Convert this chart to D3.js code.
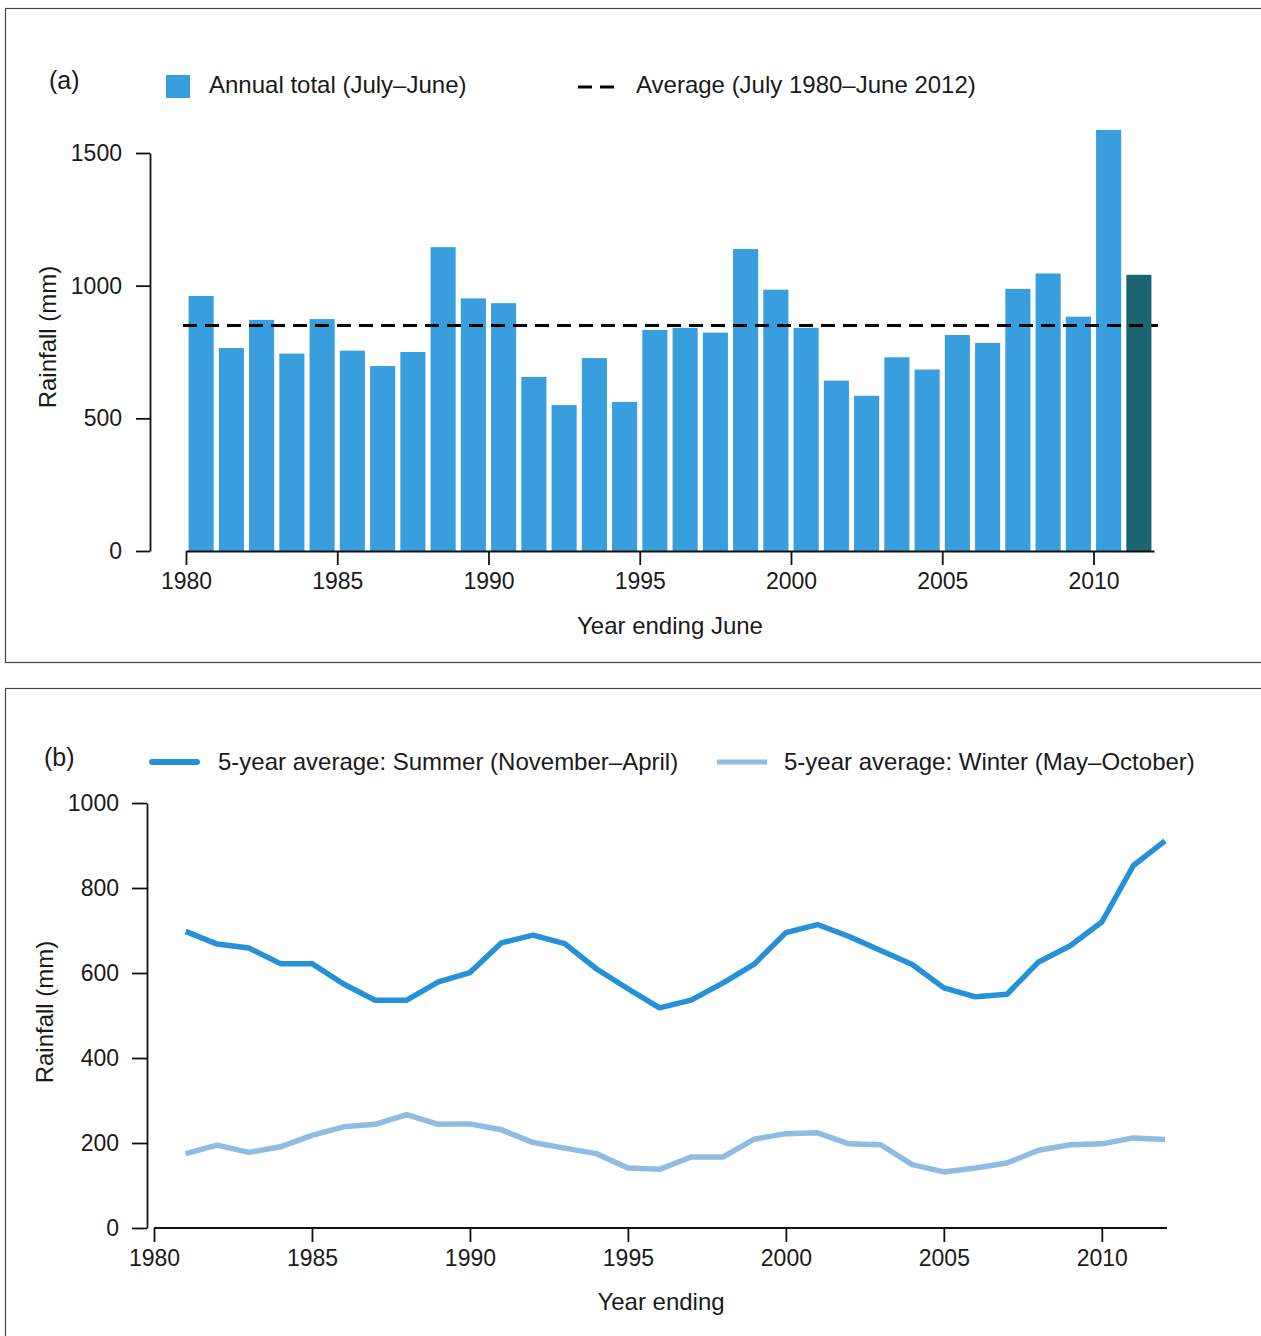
<!DOCTYPE html>
<html>
<head>
<meta charset="utf-8">
<script src="https://cdn.jsdelivr.net/npm/d3@7"></script>
<style>
  html, body { margin: 0; padding: 0; background: #fff; }
  svg { display: block; }
  text { font-family: "Liberation Sans", Arial, Helvetica, sans-serif; fill: #1a1a1a; }
  .axis path, .axis line { stroke: #111; stroke-width: 1.8; }
  .axis text { font-size: 23px; fill: #1a1a1a; font-family: "Liberation Sans", Arial, sans-serif; }
</style>
</head>
<body>
<svg id="chart" width="1261" height="1336"></svg>
<script>
// Annual rainfall, year ending June (July 1980 – June 2012)
const barYears = d3.range(1981, 2013);
const annualTotals = [961, 765, 871, 744, 874, 755, 697, 750, 1145, 952, 934, 656, 550, 727, 562,
                      833, 841, 823, 1138, 985, 841, 642, 585, 730, 684, 814, 784, 988, 1046, 883, 1587, 1041];

// 5-year running averages by season
const lineYears = d3.range(1981, 2013);
const summerAvg = [698, 668, 659, 622, 622, 574, 536, 536, 579, 601, 671, 689, 669, 610, 563,
                   518, 536, 576, 621, 695, 714, 686, 653, 620, 565, 544, 550, 626, 664, 720, 853, 911];
const winterAvg = [175, 195, 178, 191, 218, 238, 244, 267, 244, 245, 231, 201, 188, 175, 141,
                   138, 167, 167, 209, 222, 224, 198, 196, 149, 132, 141, 153, 183, 196, 198, 212, 208];

const yTicksA = [0, 500, 1000, 1500];
const yTicksB = [0, 200, 400, 600, 800, 1000];
const xTicks = [1980, 1985, 1990, 1995, 2000, 2005, 2010];

const barColor = "#389edd";
const lastBarColor = "#1b6470";
const summerColor = "#2791d8";
const winterColor = "#8fbde2";

const svg = d3.select("#chart");

// Panel frames
svg.append("rect").attr("x", 5.5).attr("y", 8.5).attr("width", 1260).attr("height", 654)
  .attr("fill", "none").attr("stroke", "#444").attr("stroke-width", 1.2);
svg.append("rect").attr("x", 5.5).attr("y", 688.5).attr("width", 1260).attr("height", 700)
  .attr("fill", "none").attr("stroke", "#444").attr("stroke-width", 1.2);

// ---------- Panel (a): annual totals ----------
const gA = svg.append("g");
const xA = d3.scaleLinear().domain([1980, 2012]).range([186, 1154]);
const xBand = d3.scaleBand().domain(barYears).range([186, 1154]).paddingInner(0.17).paddingOuter(0.085);
const yA = d3.scaleLinear().domain([0, 1500]).range([551, 153]);

gA.selectAll("rect.bar").data(barYears).join("rect")
  .attr("class", "bar")
  .attr("x", d => xBand(d))
  .attr("width", xBand.bandwidth())
  .attr("y", (d, i) => yA(annualTotals[i]))
  .attr("height", (d, i) => yA(0) - yA(annualTotals[i]))
  .attr("fill", (d, i) => i === barYears.length - 1 ? lastBarColor : barColor);

const avg = d3.mean(annualTotals);
gA.append("line")
  .attr("x1", 183).attr("x2", 1158)
  .attr("y1", yA(avg)).attr("y2", yA(avg))
  .attr("stroke", "#000").attr("stroke-width", 3)
  .attr("stroke-dasharray", "14,8");

gA.append("g").attr("class", "axis")
  .attr("transform", "translate(150,0)")
  .call(d3.axisLeft(yA).tickValues(yTicksA).tickSize(14).tickSizeOuter(0).tickPadding(14).tickFormat(d3.format("d")));

gA.append("g").attr("class", "axis")
  .attr("transform", "translate(0,551)")
  .call(d3.axisBottom(xA).tickValues(xTicks).tickSize(14).tickSizeOuter(0).tickPadding(8).tickFormat(d3.format("d")));

gA.append("text").attr("transform", "translate(56,337) rotate(-90)")
  .attr("text-anchor", "middle").style("font-size", "24px").text("Rainfall (mm)");
gA.append("text").attr("x", 670).attr("y", 634)
  .attr("text-anchor", "middle").style("font-size", "24px").text("Year ending June");

gA.append("text").attr("x", 49).attr("y", 89).style("font-size", "25px").text("(a)");
gA.append("rect").attr("x", 166).attr("y", 75).attr("width", 24).attr("height", 23).attr("fill", barColor);
gA.append("text").attr("x", 209).attr("y", 93).style("font-size", "24px").text("Annual total (July–June)");
gA.append("line").attr("x1", 578).attr("x2", 622).attr("y1", 87).attr("y2", 87)
  .attr("stroke", "#000").attr("stroke-width", 3).attr("stroke-dasharray", "14,8");
gA.append("text").attr("x", 636).attr("y", 93).style("font-size", "24px").text("Average (July 1980–June 2012)");

// ---------- Panel (b): 5-year seasonal averages ----------
const gB = svg.append("g");
const xB = d3.scaleLinear().domain([1980, 2012]).range([154, 1165]);
const yB = d3.scaleLinear().domain([0, 1000]).range([1228, 803]);

const line = d3.line().x(d => xB(d[0])).y(d => yB(d[1]));

gB.append("path")
  .datum(lineYears.map((y, i) => [y, winterAvg[i]]))
  .attr("d", line).attr("fill", "none")
  .attr("stroke", winterColor).attr("stroke-width", 5.5).attr("stroke-linejoin", "round");

gB.append("path")
  .datum(lineYears.map((y, i) => [y, summerAvg[i]]))
  .attr("d", line).attr("fill", "none")
  .attr("stroke", summerColor).attr("stroke-width", 5.5).attr("stroke-linejoin", "round");

gB.append("g").attr("class", "axis")
  .attr("transform", "translate(147,0)")
  .call(d3.axisLeft(yB).tickValues(yTicksB).tickSize(15).tickSizeOuter(0).tickPadding(13).tickFormat(d3.format("d")));

const xAxisB = gB.append("g").attr("class", "axis")
  .attr("transform", "translate(0,1228)")
  .call(d3.axisBottom(xB).tickValues(xTicks).tickSize(14).tickSizeOuter(0).tickPadding(8).tickFormat(d3.format("d")));
// the baseline runs a little past the final point
xAxisB.select("path.domain").attr("d", "M154,0H1167");

gB.append("text").attr("transform", "translate(53,1012) rotate(-90)")
  .attr("text-anchor", "middle").style("font-size", "24px").text("Rainfall (mm)");
gB.append("text").attr("x", 661).attr("y", 1310)
  .attr("text-anchor", "middle").style("font-size", "24px").text("Year ending");

gB.append("text").attr("x", 44).attr("y", 766).style("font-size", "25px").text("(b)");
gB.append("line").attr("x1", 152).attr("x2", 197).attr("y1", 762).attr("y2", 762)
  .attr("stroke", summerColor).attr("stroke-width", 6).attr("stroke-linecap", "round");
gB.append("text").attr("x", 218).attr("y", 770).style("font-size", "24px").text("5-year average: Summer (November–April)");
gB.append("line").attr("x1", 717).attr("x2", 767).attr("y1", 762).attr("y2", 762)
  .attr("stroke", winterColor).attr("stroke-width", 5);
gB.append("text").attr("x", 784).attr("y", 770).style("font-size", "24px").text("5-year average: Winter (May–October)");
</script>
</body>
</html>
